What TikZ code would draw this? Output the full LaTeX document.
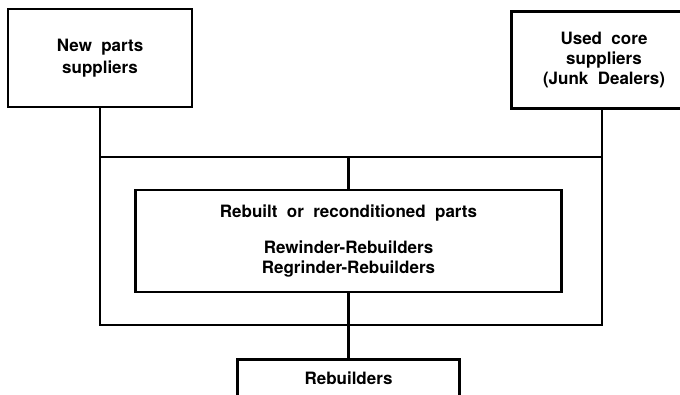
\documentclass[tikz,border=0pt]{standalone}
\usepackage{fontspec}
\setmainfont{TeX Gyre Heros}
\usetikzlibrary{positioning}
\protected\def\chartfont#1{\fontsize{12.75}{#1}\selectfont\bfseries\spaceskip=0.55em\relax}
\tikzset{
  boxtext/.style={align=center,inner sep=2pt,font=\chartfont{15pt}},
  box/.style={boxtext,draw,line width=2.2pt,minimum width=#1},
  box/.default=138pt,
  link/.style={line width=2.2pt},
}
\begin{document}
\begin{tikzpicture}[x=0.75pt,y=-0.75pt]
        \useasboundingbox (0,0) rectangle (680,395);
        \fill[white] (0,0) rectangle (680,395);
        \node[box,minimum height=73.5pt,font=\chartfont{17pt}] (np) at (100,58) {New parts\\suppliers};
        % cut off by the right edge
        \node[boxtext,minimum width=138pt,minimum height=72pt] (uc) at (604,60) {Used core\\suppliers\\(Junk Dealers)};
        \draw[link] ([xshift=-12pt]uc.north east) -- (uc.north west) -- (uc.south west) -- ([xshift=-12pt]uc.south east);
        \node[box=167pt,minimum height=40pt,anchor=north] (rb) at (348.5,358) {};
        \node[boxtext] (rbt) at (348.5,378) {Rebuilders};
        \node[box=320pt,minimum height=76.5pt] (rp) at (348.5,241)
          {Rebuilt or reconditioned parts\\[12pt]Rewinder-Rebuilders\\Regrinder-Rebuilders};
        % frame round the rebuilt parts
        \coordinate (tl) at (100,157);
        \coordinate (tr) at (602,157);
        \coordinate (bl) at (100,325);
        \coordinate (br) at (602,325);
        \draw[link] (np.south) -- (tl) -- (bl) -- (br) -- (tr) -- (tr |- uc.south);
        \draw[link] (tl) -- (tr);
        \draw[link] (tl -| rp.north) -- (rp.north);
        \draw[link] (rp.south) -- (rb.north);
      \end{tikzpicture}
\end{document}
